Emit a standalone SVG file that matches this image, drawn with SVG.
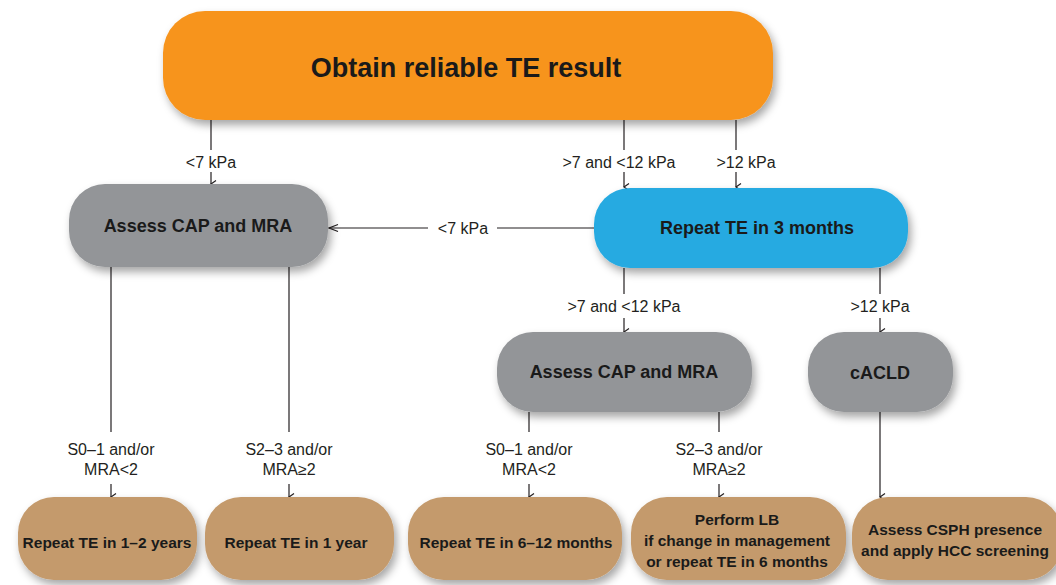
<svg xmlns="http://www.w3.org/2000/svg" width="1056" height="585" viewBox="0 0 1056 585">
<defs>
<filter id="sh" x="-10%" y="-10%" width="130%" height="140%">
<feDropShadow dx="3" dy="5" stdDeviation="4" flood-color="#000" flood-opacity="0.35"/>
</filter>
<marker id="arr" viewBox="0 0 10 10" refX="5" refY="9" markerWidth="10" markerHeight="10" markerUnits="userSpaceOnUse" orient="auto-start-reverse">
<path d="M1.5,4 L5,9 L8.5,4" fill="none" stroke="#231f20" stroke-width="1.2"/>
</marker>
<marker id="arrL" viewBox="0 0 12 10" refX="1" refY="5" markerWidth="12" markerHeight="10" markerUnits="userSpaceOnUse" orient="0">
<path d="M10,1.5 L1,5 L10,8.5" fill="none" stroke="#231f20" stroke-width="1.2"/>
</marker>
</defs>
<style>
.orange{fill:#F7941D}
.gray{fill:#939598}
.blue{fill:#27AAE1}
.tan{fill:#C49A6C}
.nt{font-family:"Liberation Sans",Arial,sans-serif;font-weight:bold;fill:#1a1a1a;text-anchor:middle}
.lb{font-family:"Liberation Sans Narrow","Liberation Sans",Arial,sans-serif;font-size:16px;fill:#231f20;text-anchor:middle}
.ln{stroke:#231f20;stroke-width:1.2;fill:none}
</style>
<rect width="1056" height="585" fill="#fff"/>

<g id="connectors">
<line class="ln" x1="211" y1="120" x2="211" y2="150"/>
<line class="ln" x1="211" y1="172" x2="211" y2="184" marker-end="url(#arr)"/>
<line class="ln" x1="624" y1="120" x2="624" y2="150"/>
<line class="ln" x1="624" y1="172" x2="624" y2="187" marker-end="url(#arr)"/>
<line class="ln" x1="736" y1="120" x2="736" y2="150"/>
<line class="ln" x1="736" y1="172" x2="736" y2="187" marker-end="url(#arr)"/>
<line class="ln" x1="594" y1="228" x2="497" y2="228"/>
<line class="ln" x1="428" y1="228" x2="329" y2="228" marker-end="url(#arrL)"/>
<line class="ln" x1="624" y1="268" x2="624" y2="294"/>
<line class="ln" x1="624" y1="318" x2="624" y2="332" marker-end="url(#arr)"/>
<line class="ln" x1="880" y1="268" x2="880" y2="294"/>
<line class="ln" x1="880" y1="318" x2="880" y2="332" marker-end="url(#arr)"/>
<line class="ln" x1="111" y1="267" x2="111" y2="432"/>
<line class="ln" x1="111" y1="484" x2="111" y2="497" marker-end="url(#arr)"/>
<line class="ln" x1="289" y1="267" x2="289" y2="432"/>
<line class="ln" x1="289" y1="484" x2="289" y2="497" marker-end="url(#arr)"/>
<line class="ln" x1="529" y1="412" x2="529" y2="432"/>
<line class="ln" x1="529" y1="484" x2="529" y2="497" marker-end="url(#arr)"/>
<line class="ln" x1="719" y1="412" x2="719" y2="432"/>
<line class="ln" x1="719" y1="484" x2="719" y2="497" marker-end="url(#arr)"/>
<line class="ln" x1="880" y1="412" x2="880" y2="497" marker-end="url(#arr)"/>
<text class="lb" x="211" y="168">&lt;7 kPa</text>
<text class="lb" x="619" y="168">&gt;7 and &lt;12 kPa</text>
<text class="lb" x="746" y="168">&gt;12 kPa</text>
<text class="lb" x="463" y="234">&lt;7 kPa</text>
<text class="lb" x="624" y="312">&gt;7 and &lt;12 kPa</text>
<text class="lb" x="880" y="312">&gt;12 kPa</text>
<text class="lb" x="111" y="455">S0–1 and/or</text>
<text class="lb" x="111" y="475">MRA&lt;2</text>
<text class="lb" x="289" y="455">S2–3 and/or</text>
<text class="lb" x="289" y="475">MRA≥2</text>
<text class="lb" x="529" y="455">S0–1 and/or</text>
<text class="lb" x="529" y="475">MRA&lt;2</text>
<text class="lb" x="719" y="455">S2–3 and/or</text>
<text class="lb" x="719" y="475">MRA≥2</text>
</g>

<g id="n-obtain">
<rect class="orange" x="163" y="11" width="610" height="109" rx="42" filter="url(#sh)"/>
<text class="nt" x="466" y="77" font-size="27">Obtain reliable TE result</text>
</g>
<g id="n-assess1">
<rect class="gray" x="69" y="184" width="259" height="83" rx="36" filter="url(#sh)"/>
<text class="nt" x="198" y="232" font-size="18">Assess CAP and MRA</text>
</g>
<g id="n-repeat3">
<rect class="blue" x="594" y="188" width="314" height="80" rx="36" filter="url(#sh)"/>
<text class="nt" x="757" y="234" font-size="18">Repeat TE in 3 months</text>
</g>
<g id="n-assess2">
<rect class="gray" x="497" y="332" width="255" height="80" rx="36" filter="url(#sh)"/>
<text class="nt" x="624" y="378" font-size="18">Assess CAP and MRA</text>
</g>
<g id="n-cacld">
<rect class="gray" x="808" y="332" width="145" height="80" rx="36" filter="url(#sh)"/>
<text class="nt" x="880" y="379" font-size="18">cACLD</text>
</g>
<g id="n-r12y">
<rect class="tan" x="18" y="497" width="179" height="83" rx="36" filter="url(#sh)"/>
<text class="nt" x="107" y="548" font-size="15.5">Repeat TE in 1–2 years</text>
</g>
<g id="n-r1y">
<rect class="tan" x="205" y="497" width="189" height="83" rx="36" filter="url(#sh)"/>
<text class="nt" x="296" y="548" font-size="15.5">Repeat TE in 1 year</text>
</g>
<g id="n-r612">
<rect class="tan" x="408" y="497" width="214" height="83" rx="36" filter="url(#sh)"/>
<text class="nt" x="516" y="548" font-size="15.5">Repeat TE in 6–12 months</text>
</g>
<g id="n-lb">
<rect class="tan" x="631" y="497" width="215" height="83" rx="36" filter="url(#sh)"/>
<text class="nt" x="737" y="525" font-size="15.5">Perform LB</text>
<text class="nt" x="737" y="546" font-size="15.5">if change in management</text>
<text class="nt" x="737" y="567" font-size="15.5">or repeat TE in 6 months</text>
</g>
<g id="n-csph">
<rect class="tan" x="852" y="497" width="210" height="83" rx="36" filter="url(#sh)"/>
<text class="nt" x="955" y="535" font-size="15.5">Assess CSPH presence</text>
<text class="nt" x="955" y="556" font-size="15.5">and apply HCC screening</text>
</g>
</svg>
